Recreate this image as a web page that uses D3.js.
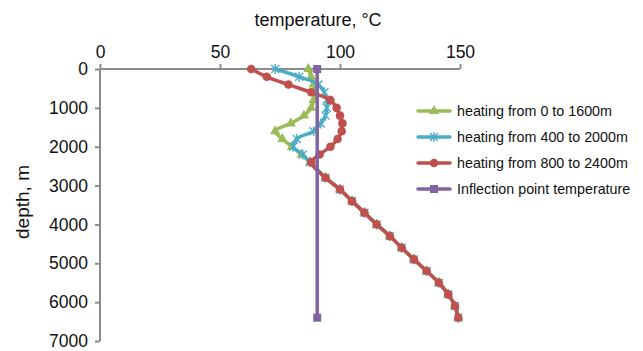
<!DOCTYPE html>
<html>
<head>
<meta charset="utf-8">
<script src="https://cdn.jsdelivr.net/npm/d3@7"></script>
<style>
  html, body { margin: 0; padding: 0; background: #fff; }
  svg { display: block; font-family: "Liberation Sans", Arial, Helvetica, sans-serif; }
</style>
</head>
<body>
<svg id="chart" width="643" height="351"></svg>
<script>
// ---- data ----
const depths = [0, 200, 400, 600, 800, 1000, 1200, 1400, 1600, 1800, 2000, 2200, 2400,
                2800, 3100, 3400, 3700, 4000, 4300, 4600, 4900, 5200, 5500, 5800, 6100, 6400];
const deepTemps = [94, 100, 105, 110.2, 115.3, 120.8, 125.7, 130.8, 136.1, 141.2, 145.1, 147.9, 149.3];
const heating0to1600 = [86.8, 88, 89, 89.5, 89, 88, 85, 79.5, 73, 76, 80, 84, 87.5].concat(deepTemps);
const heating400to2000 = [73, 83, 91, 93.5, 94.5, 94.5, 94, 92, 89, 82, 80.5, 84.5, 87.5].concat(deepTemps);
const heating800to2400 = [63, 69.5, 78.5, 88, 96, 98.6, 100, 101, 100.7, 99, 96, 91.5, 88].concat(deepTemps);
const inflectionDepths = [0, 6400];
const inflectionTemps = [90.5, 90.5];
const xTicks = [0, 50, 100, 150];
const yTicks = [0, 1000, 2000, 3000, 4000, 5000, 6000, 7000];
const seriesNames = ["heating from 0 to 1600m", "heating from 400 to 2000m",
                     "heating from 800 to 2400m", "Inflection point temperature"];
const seriesColors = ["#9BBB59", "#4BACC6", "#C0504D", "#8064A2"];
const seriesMarkers = ["triangle", "star", "circle", "square"];

// ---- layout ----
const svg = d3.select("#chart");
const x = d3.scaleLinear().domain([0, 150]).range([100, 460]);
const y = d3.scaleLinear().domain([0, 7000]).range([69, 341]);
const axisColor = "#8c8c8c";

// axes
const xAxis = svg.append("g").attr("transform", `translate(0,${y(0)})`)
  .call(d3.axisTop(x).tickValues(xTicks).tickSize(5).tickPadding(6));
const yAxis = svg.append("g").attr("transform", `translate(${x(0)},0)`)
  .call(d3.axisLeft(y).tickValues(yTicks).tickSize(5).tickPadding(7).tickFormat(d3.format("d")));
[xAxis, yAxis].forEach(g => {
  g.select(".domain").attr("stroke", axisColor).attr("stroke-width", 2);
  g.selectAll(".tick line").attr("stroke", axisColor).attr("stroke-width", 2);
  g.selectAll(".tick text").attr("fill", "#111").style("font-size", "17.5px")
    .style("font-family", "'Liberation Sans', Arial, sans-serif");
});
xAxis.select(".domain").attr("d", `M${x(0)},0H${x(150)}`);
yAxis.select(".domain").attr("d", `M0,${y(0)}V${y(7000)}`);

// titles
svg.append("text").attr("x", 318).attr("y", 26).attr("text-anchor", "middle")
  .style("font-size", "18px").attr("fill", "#111").text("temperature, °C");
svg.append("text").attr("transform", "translate(29,202) rotate(-90)").attr("text-anchor", "middle")
  .style("font-size", "19px").attr("fill", "#111").text("depth, m");

// markers
function drawMarker(g, type, cx, cy, color) {
  if (type === "circle") {
    g.append("circle").attr("cx", cx).attr("cy", cy).attr("r", 4.3).attr("fill", color);
  } else if (type === "triangle") {
    g.append("path").attr("d", d3.symbol(d3.symbolTriangle, 46)()).attr("transform", `translate(${cx},${cy})`).attr("fill", color);
  } else if (type === "square") {
    g.append("rect").attr("x", cx - 4).attr("y", cy - 4).attr("width", 8).attr("height", 8).attr("fill", color);
  } else if (type === "star") {
    const s = 4;
    g.append("path").attr("d", `M${cx - s},${cy - s}L${cx + s},${cy + s}M${cx - s},${cy + s}L${cx + s},${cy - s}M${cx},${cy - s - 1}V${cy + s + 1}`)
      .attr("stroke", color).attr("stroke-width", 1.4).attr("fill", "none");
  }
}

const series = [
  { temps: heating0to1600, depths: depths },
  { temps: heating400to2000, depths: depths },
  { temps: heating800to2400, depths: depths },
  { temps: inflectionTemps, depths: inflectionDepths }
];
const line = d3.line().x(d => x(d[0])).y(d => y(d[1])).curve(d3.curveCatmullRom.alpha(0.5));
series.forEach((s, i) => {
  const pts = s.temps.map((t, j) => [t, s.depths[j]]);
  const g = svg.append("g");
  g.append("path").attr("d", line(pts)).attr("fill", "none")
    .attr("stroke", seriesColors[i]).attr("stroke-width", 3.5).attr("stroke-linejoin", "round");
  pts.forEach(p => drawMarker(g, seriesMarkers[i], x(p[0]), y(p[1]), seriesColors[i]));
});

// legend
const legY = [111, 137, 163, 189];
seriesNames.forEach((name, i) => {
  const g = svg.append("g");
  g.append("line").attr("x1", 418).attr("x2", 450).attr("y1", legY[i]).attr("y2", legY[i])
    .attr("stroke", seriesColors[i]).attr("stroke-width", 3.5).attr("stroke-linecap", "round");
  drawMarker(g, seriesMarkers[i], 434, legY[i], seriesColors[i]);
  g.append("text").attr("x", 457).attr("y", legY[i]).attr("dy", "0.35em")
    .style("font-size", "14.3px").attr("fill", "#111").text(name);
});
</script>
</body>
</html>
